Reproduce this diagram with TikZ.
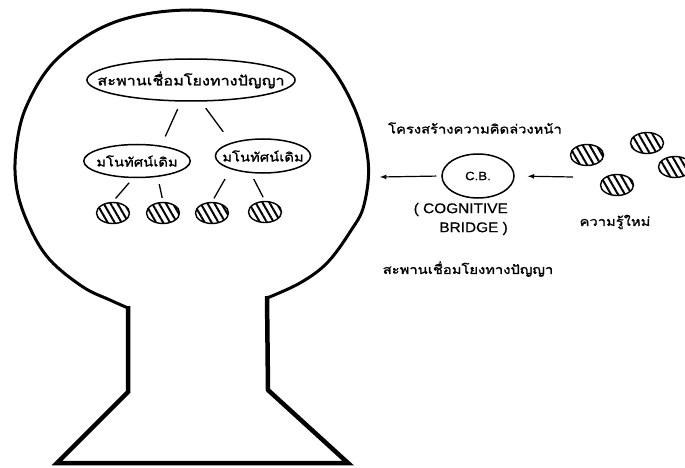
\documentclass[tikz,border=0pt]{standalone}
\usepackage{fontspec}
\setmainfont{Liberation Sans}
\newfontfamily\thaifont[Script=Thai, FakeStretch=1.2, FakeBold=1.5]{Loma}
\newfontfamily\widesans[FakeStretch=1.1, FakeBold=0.6]{Liberation Sans}
\usepackage{tikz}
\usetikzlibrary{shapes,arrows,patterns.meta}
\tikzstyle{arrow} = [draw, -latex, line width=1.2pt]
\tikzstyle{line} = [draw, line width=1.3pt]
\tikzstyle{bulb} = [draw, line width=3pt]
\tikzstyle{neck} = [draw, line width=4.5pt, line join=miter]
\tikzstyle{conceptBlock} = [draw, ellipse, line width=1.5pt, inner ysep=1pt,
    font=\thaifont\fontsize{12.3}{14}\selectfont]
\tikzstyle{ideaBlob} = [draw, ellipse, line width=1.4pt, minimum width=33pt,
    minimum height=21pt, pattern={Lines[angle=120, distance=6pt, line width=2pt]}]
\tikzstyle{thaiLabel} = [font=\thaifont\fontsize{12.3}{14}\selectfont]

\begin{document}
\begin{tikzpicture}[x=1pt, y=-1pt]
      \useasboundingbox (0,0) rectangle (685,468);

      % Draw the head
      \path [bulb] plot [smooth, tension=0.6] coordinates {(128,308) (110,300) (83,287)
        (50,260) (30,228) (17,190) (16,150) (27,105) (58,58) (115,22) (190,10) (265,21)
        (320,55) (353,105) (368,160) (364,205) (350,232) (327,263) (300,283) (267,298)};
      \path [neck] (128,306) -- (128,392) -- (57,463) -- (348,463) -- (268,390) -- (267,296);

      % Place nodes
      \node [conceptBlock, inner xsep=-20pt, minimum height=42pt,
        font=\thaifont\fontsize{13.5}{15}\selectfont] (bridge) at (191,80) {สะพานเชื่อมโยงทางปัญญา};
      \node [conceptBlock, inner xsep=-3pt, minimum height=33pt] (old0) at (137,161) {มโนทัศน์เดิม};
      \node [conceptBlock, inner xsep=-7pt, minimum height=34pt] (old1) at (263,156) {มโนทัศน์เดิม};

      \node [ideaBlob, below of=old0, xshift=-24pt, node distance=52pt] (idea0) {};
      \node [ideaBlob, below of=old0, xshift=26pt, node distance=52pt] (idea1) {};
      \node [ideaBlob, below of=old1, xshift=-51pt, node distance=57pt] (idea2) {};
      \node [ideaBlob, below of=old1, xshift=2pt, node distance=56pt] (idea3) {};

      \node [draw, ellipse, line width=1.5pt, minimum width=72pt, minimum height=44pt,
        font=\widesans\fontsize{12}{14}\selectfont] (cb) at (478,176) {C.B.};
      \node [thaiLabel] (organizer) at (475,128) {โครงสร้างความคิดล่วงหน้า};
      \node [align=right, anchor=east, inner sep=0pt,
        font=\widesans\fontsize{14}{19}\selectfont] (cbname) at (508,219) {( COGNITIVE\\BRIDGE )};
      \node [thaiLabel] (bridgelabel) at (468,269) {สะพานเชื่อมโยงทางปัญญา};

      \node [ideaBlob] (new0) at (587,155) {};
      \node [ideaBlob] (new1) at (647,143) {};
      \node [ideaBlob] (new2) at (675,167) {};
      \node [ideaBlob] (new3) at (617,185) {};
      \node [thaiLabel] (newknow) at (615,222) {ความรู้ใหม่};

      \coordinate (headEdge) at (380,177);
      \coordinate (newTail) at (573,177);

      % Connect them
      \path [line, shorten <=8pt, shorten >=8pt] ([xshift=-10pt]bridge.south) -- ([xshift=25pt]old0.north);
      \path [line, shorten <=8pt, shorten >=8pt] ([xshift=10pt]bridge.south) -- ([xshift=-35pt]old1.north);
      \path [line, shorten <=6pt, shorten >=4pt] ([xshift=-4pt]old0.south) -- (idea0.north);
      \path [line, shorten <=6pt, shorten >=4pt] ([xshift=21pt]old0.south) -- (idea1.north);
      \path [line, shorten <=6pt, shorten >=4pt] ([xshift=-35pt]old1.south) -- (idea2.north);
      \path [line, shorten <=6pt, shorten >=4pt] ([xshift=-12pt]old1.south) -- (idea3.north);

      \path [arrow, shorten <=5pt] (cb.west) -- (headEdge);
      \path [arrow, shorten >=13pt] (newTail) -- (cb.east);

  \end{tikzpicture}
\end{document}
